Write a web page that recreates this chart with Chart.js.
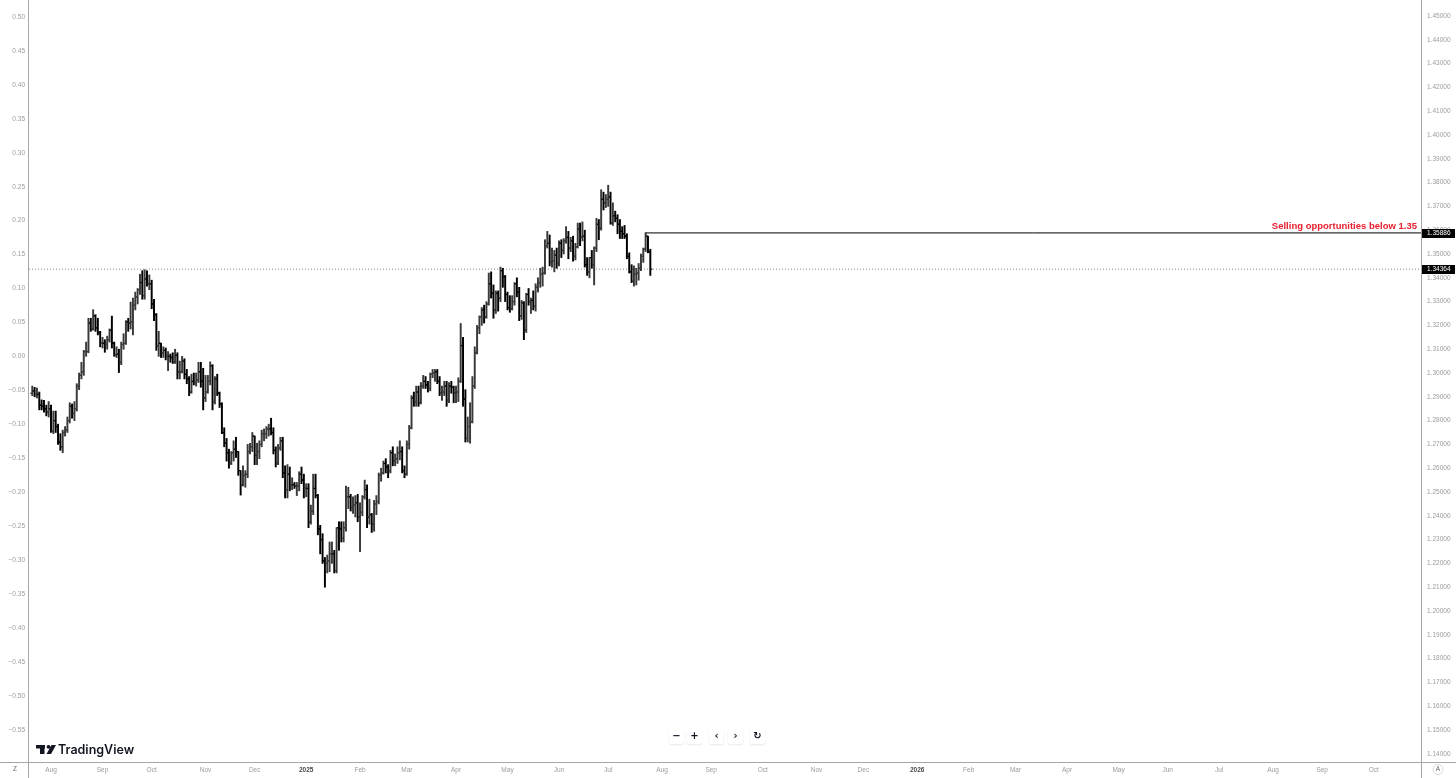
<!DOCTYPE html>
<html>
<head>
<meta charset="utf-8">
<script src="https://cdn.jsdelivr.net/npm/chart.js"></script>
<style>
  html, body { margin: 0; padding: 0; background: #fff; }
  #wrap { width: 1456px; height: 778px; position: relative; }
</style>
</head>
<body>
<div id="wrap"><canvas id="fx" width="1456" height="778"></canvas></div>
<script>
// daily bars, GBP/USD, first bar on 2024-07-22 (weekdays only)
const firstBar = '2024-07-22';

const opens = [
  1.2915,1.2925,1.2910,1.2910,1.2865,1.2860,1.2850,1.2835,
  1.2850,1.2755,1.2800,1.2775,1.2710,1.2690,1.2750,1.2760,1.2800,1.2860,1.2830,1.2850,1.2945,1.2990,1.3005,1.3090,1.3090,1.3210,1.3185,1.3240,1.3190,1.3170,
  1.3125,1.3125,1.3120,1.3140,1.3180,1.3125,1.3075,1.3080,1.3045,1.3120,1.3125,1.3215,1.3210,1.3215,1.3285,1.3320,1.3350,1.3380,1.3325,1.3395,1.3375,
  1.3375,1.3290,1.3245,1.3115,1.3125,1.3085,1.3095,1.3070,1.3070,1.3065,1.3045,1.3075,1.3005,1.3005,1.3050,1.2995,1.2975,1.2920,1.2965,1.2960,1.2970,1.3005,1.2965,
  1.2895,1.2920,1.2965,1.3030,1.2880,1.2975,1.2915,1.2870,1.2750,1.2705,1.2665,1.2620,1.2665,1.2680,1.2670,1.2590,1.2530,1.2570,1.2575,1.2670,1.2690,
  1.2735,1.2655,1.2670,1.2700,1.2745,1.2745,1.2765,1.2765,1.2750,1.2675,1.2620,1.2685,1.2715,1.2580,1.2510,1.2575,1.2530,1.2530,1.2525,1.2525,1.2575,1.2550,
  1.2515,1.2515,1.2375,1.2420,1.2515,1.2485,1.2345,1.2300,1.2210,1.2200,1.2210,1.2240,1.2240,1.2170,1.2350,1.2345,1.2305,1.2350,1.2480,1.2480,1.2435,1.2445,1.2455,
  1.2395,1.2415,1.2480,1.2510,1.2395,1.2405,1.2365,1.2450,1.2460,1.2570,1.2580,1.2620,1.2605,1.2590,1.2665,1.2630,1.2640,1.2665,1.2670,1.2590,
  1.2575,1.2700,1.2770,1.2895,1.2880,1.2920,1.2875,1.2945,1.2965,1.2950,1.2935,1.2995,1.3000,1.3005,1.2965,1.2915,1.2920,1.2945,1.2885,1.2945,1.2940,
  1.2915,1.2920,1.2965,1.3115,1.2890,1.2725,1.2775,1.2795,1.2945,1.3085,1.3190,1.3235,1.3265,1.3235,1.3290,1.3375,1.3335,1.3265,1.3335,1.3315,1.3430,1.3405,
  1.3330,1.3275,1.3270,1.3300,1.3375,1.3340,1.3240,1.3295,1.3180,1.3330,1.3300,1.3305,1.3280,1.3360,1.3380,1.3415,1.3420,1.3535,1.3545,1.3465,1.3470,1.3495,
  1.3460,1.3545,1.3515,1.3555,1.3570,1.3525,1.3555,1.3490,1.3530,1.3605,1.3570,1.3575,1.3455,1.3425,1.3485,1.3455,1.3525,1.3625,1.3610,1.3730,1.3715,
  1.3730,1.3740,1.3630,1.3660,1.3650,1.3625,1.3595,1.3585,1.3575,1.3490,1.3425,1.3385,1.3415,1.3420,1.3440,1.3490,1.3520,1.3575,1.3510
];
const highs = [
  1.2945,1.2940,1.2937,1.2920,1.2887,1.2885,1.2865,1.2880,
  1.2865,1.2840,1.2840,1.2785,1.2745,1.2760,1.2775,1.2815,1.2875,1.2870,1.2880,1.2955,1.3000,1.3045,1.3095,1.3130,1.3230,1.3230,1.3266,1.3245,1.3230,1.3175,
  1.3150,1.3140,1.3155,1.3185,1.3239,1.3130,1.3110,1.3100,1.3130,1.3165,1.3220,1.3230,1.3298,1.3315,1.3340,1.3355,1.3415,1.3430,1.3434,1.3429,1.3412,
  1.3390,1.3310,1.3250,1.3175,1.3125,1.3110,1.3105,1.3090,1.3080,1.3085,1.3100,1.3085,1.3050,1.3070,1.3060,1.3015,1.2985,1.2995,1.3000,1.3000,1.3045,1.3045,1.3020,
  1.2990,1.2990,1.3047,1.3035,1.2985,1.2995,1.2920,1.2875,1.2770,1.2725,1.2680,1.2670,1.2715,1.2730,1.2670,1.2590,1.2610,1.2590,1.2700,1.2705,1.2750,
  1.2735,1.2705,1.2715,1.2760,1.2765,1.2775,1.2785,1.2810,1.2770,1.2690,1.2700,1.2730,1.2730,1.2610,1.2615,1.2605,1.2560,1.2540,1.2540,1.2585,1.2605,1.2575,
  1.2535,1.2535,1.2445,1.2575,1.2575,1.2490,1.2360,1.2325,1.2225,1.2235,1.2290,1.2290,1.2255,1.2350,1.2375,1.2375,1.2375,1.2525,1.2520,1.2490,1.2480,1.2485,1.2490,
  1.2455,1.2485,1.2550,1.2530,1.2470,1.2410,1.2465,1.2485,1.2580,1.2600,1.2630,1.2640,1.2615,1.2675,1.2690,1.2660,1.2690,1.2715,1.2690,1.2610,
  1.2715,1.2780,1.2905,1.2920,1.2945,1.2945,1.2960,1.2990,1.2985,1.2965,1.3000,1.3015,1.3015,1.3015,1.2985,1.2945,1.2965,1.2965,1.2960,1.2965,1.2945,
  1.2945,1.2980,1.3208,1.3150,1.2930,1.2815,1.2875,1.2985,1.3110,1.3200,1.3240,1.3275,1.3285,1.3300,1.3420,1.3425,1.3370,1.3345,1.3345,1.3445,1.3440,1.3410,
  1.3340,1.3325,1.3325,1.3380,1.3400,1.3360,1.3305,1.3300,1.3335,1.3355,1.3315,1.3345,1.3375,1.3400,1.3440,1.3445,1.3560,1.3595,1.3580,1.3525,1.3515,1.3525,
  1.3555,1.3560,1.3565,1.3615,1.3595,1.3570,1.3575,1.3545,1.3630,1.3630,1.3635,1.3600,1.3485,1.3485,1.3515,1.3530,1.3650,1.3645,1.3770,1.3760,1.3750,
  1.3789,1.3760,1.3715,1.3680,1.3665,1.3645,1.3615,1.3620,1.3585,1.3505,1.3455,1.3450,1.3440,1.3460,1.3500,1.3525,1.3589,1.3575,1.3520
];
const lows = [
  1.2905,1.2900,1.2895,1.2845,1.2845,1.2835,1.2820,1.2815,
  1.2750,1.2745,1.2750,1.2700,1.2675,1.2665,1.2735,1.2750,1.2790,1.2810,1.2800,1.2840,1.2930,1.2975,1.2990,1.3070,1.3085,1.3175,1.3180,1.3175,1.3160,1.3110,
  1.3105,1.3087,1.3100,1.3130,1.3105,1.3070,1.3065,1.3002,1.3035,1.3100,1.3120,1.3175,1.3185,1.3160,1.3265,1.3290,1.3330,1.3310,1.3310,1.3365,1.3350,
  1.3270,1.3220,1.3095,1.3070,1.3065,1.3065,1.3055,1.3010,1.3045,1.3040,1.3040,1.2975,1.2975,1.3000,1.2975,1.2955,1.2905,1.2915,1.2950,1.2945,1.2960,1.2940,1.2845,
  1.2880,1.2915,1.2950,1.2845,1.2870,1.2905,1.2855,1.2745,1.2690,1.2630,1.2600,1.2615,1.2630,1.2645,1.2570,1.2487,1.2525,1.2520,1.2560,1.2660,1.2670,
  1.2615,1.2615,1.2640,1.2690,1.2715,1.2725,1.2735,1.2740,1.2660,1.2605,1.2615,1.2675,1.2560,1.2475,1.2475,1.2505,1.2510,1.2515,1.2485,1.2505,1.2535,1.2475,
  1.2480,1.2350,1.2365,1.2405,1.2475,1.2320,1.2240,1.2200,1.2100,1.2160,1.2165,1.2200,1.2160,1.2160,1.2255,1.2290,1.2290,1.2335,1.2430,1.2420,1.2410,1.2395,1.2375,
  1.2249,1.2400,1.2470,1.2350,1.2365,1.2330,1.2335,1.2405,1.2450,1.2545,1.2575,1.2580,1.2560,1.2580,1.2610,1.2610,1.2620,1.2635,1.2580,1.2560,
  1.2570,1.2680,1.2765,1.2860,1.2860,1.2860,1.2870,1.2935,1.2935,1.2920,1.2925,1.2980,1.2965,1.2955,1.2905,1.2885,1.2905,1.2860,1.2875,1.2915,1.2875,
  1.2875,1.2880,1.2960,1.2860,1.2710,1.2710,1.2705,1.2790,1.2935,1.3080,1.3165,1.3200,1.3210,1.3230,1.3285,1.3315,1.3230,1.3250,1.3260,1.3300,1.3360,1.3300,
  1.3265,1.3255,1.3265,1.3285,1.3320,1.3220,1.3225,1.3140,1.3170,1.3285,1.3250,1.3265,1.3260,1.3340,1.3360,1.3365,1.3415,1.3525,1.3450,1.3445,1.3425,1.3440,
  1.3450,1.3485,1.3500,1.3545,1.3480,1.3510,1.3470,1.3475,1.3525,1.3535,1.3555,1.3445,1.3410,1.3400,1.3440,1.3370,1.3510,1.3560,1.3600,1.3685,1.3695,
  1.3700,1.3625,1.3620,1.3635,1.3585,1.3565,1.3565,1.3565,1.3480,1.3420,1.3380,1.3365,1.3370,1.3390,1.3430,1.3465,1.3510,1.3505,1.3410
];
const closes = [
  1.2925,1.2910,1.2910,1.2865,1.2860,1.2850,1.2835,1.2850,
  1.2755,1.2800,1.2775,1.2710,1.2690,1.2750,1.2760,1.2800,1.2860,1.2830,1.2850,1.2945,1.2990,1.3005,1.3090,1.3090,1.3210,1.3185,1.3240,1.3190,1.3170,1.3125,
  1.3125,1.3120,1.3140,1.3180,1.3125,1.3075,1.3080,1.3045,1.3120,1.3125,1.3215,1.3210,1.3215,1.3285,1.3320,1.3350,1.3380,1.3325,1.3395,1.3375,1.3375,
  1.3290,1.3245,1.3115,1.3125,1.3085,1.3095,1.3070,1.3070,1.3065,1.3045,1.3075,1.3005,1.3005,1.3050,1.2995,1.2975,1.2920,1.2965,1.2960,1.2970,1.3005,1.2965,1.2895,
  1.2920,1.2965,1.3030,1.2880,1.2975,1.2915,1.2870,1.2750,1.2705,1.2665,1.2620,1.2665,1.2680,1.2670,1.2590,1.2530,1.2570,1.2575,1.2670,1.2690,1.2735,
  1.2655,1.2670,1.2700,1.2745,1.2745,1.2765,1.2765,1.2750,1.2675,1.2620,1.2685,1.2715,1.2580,1.2510,1.2575,1.2530,1.2530,1.2525,1.2525,1.2575,1.2550,1.2515,
  1.2515,1.2375,1.2420,1.2515,1.2485,1.2345,1.2300,1.2210,1.2200,1.2210,1.2240,1.2240,1.2170,1.2350,1.2345,1.2305,1.2350,1.2480,1.2480,1.2435,1.2445,1.2455,1.2395,
  1.2415,1.2480,1.2510,1.2395,1.2405,1.2365,1.2450,1.2460,1.2570,1.2580,1.2620,1.2605,1.2590,1.2665,1.2630,1.2640,1.2665,1.2670,1.2590,1.2575,
  1.2700,1.2770,1.2895,1.2880,1.2920,1.2875,1.2945,1.2965,1.2950,1.2935,1.2995,1.3000,1.3005,1.2965,1.2915,1.2920,1.2945,1.2885,1.2945,1.2940,1.2915,
  1.2920,1.2965,1.3115,1.2890,1.2725,1.2775,1.2795,1.2945,1.3085,1.3190,1.3235,1.3265,1.3235,1.3290,1.3375,1.3335,1.3265,1.3335,1.3315,1.3430,1.3405,1.3330,
  1.3275,1.3270,1.3300,1.3375,1.3340,1.3240,1.3295,1.3180,1.3330,1.3300,1.3305,1.3280,1.3360,1.3380,1.3415,1.3420,1.3535,1.3545,1.3465,1.3470,1.3495,1.3460,
  1.3545,1.3515,1.3555,1.3570,1.3525,1.3555,1.3490,1.3530,1.3605,1.3570,1.3575,1.3455,1.3425,1.3485,1.3455,1.3525,1.3625,1.3610,1.3730,1.3715,1.3730,
  1.3740,1.3630,1.3660,1.3650,1.3625,1.3595,1.3585,1.3575,1.3490,1.3425,1.3385,1.3415,1.3420,1.3440,1.3490,1.3520,1.3575,1.3510,1.34364
];

// horizontal levels
const levelPrice = 1.35886;
const levelFrom = '2025-07-23';
const levelText = 'Selling opportunities below 1.35';
const lastPrice = 1.34364;

// axis labels
const monthLabels = ['Aug','Sep','Oct','Nov','Dec','2025','Feb','Mar','Apr','May','Jun','Jul',
  'Aug','Sep','Oct','Nov','Dec','2026','Feb','Mar','Apr','May','Jun','Jul','Aug','Sep','Oct'];
const priceTicks = [1.14,1.15,1.16,1.17,1.18,1.19,1.20,1.21,1.22,1.23,1.24,1.25,1.26,1.27,1.28,1.29,
  1.30,1.31,1.32,1.33,1.34,1.35,1.36,1.37,1.38,1.39,1.40,1.41,1.42,1.43,1.44,1.45];
const pctTicks = [0.50,0.45,0.40,0.35,0.30,0.25,0.20,0.15,0.10,0.05,0.00,-0.05,-0.10,-0.15,-0.20,
  -0.25,-0.30,-0.35,-0.40,-0.45,-0.50,-0.55];

// trading days (weekdays) from the first bar to the end of the visible axis
const days = [];
for (let d = new Date(firstBar + 'T00:00:00Z'); d <= new Date('2026-10-31T00:00:00Z'); d.setUTCDate(d.getUTCDate() + 1)) {
  const wd = d.getUTCDay();
  if (wd !== 0 && wd !== 6) days.push(d.toISOString().slice(0, 10));
}
const monthTicks = monthLabels.map((lab, k) => {
  const y = 2024 + Math.floor((7 + k) / 12), m = (7 + k) % 12;
  const key = y + '-' + String(m + 1).padStart(2, '0');
  return { value: days.findIndex(s => s.startsWith(key)), label: lab };
});
const labelAt = v => { const t = monthTicks.find(m => m.value === v); return t ? t.label : ''; };
const isYear = c => c && c.tick ? /^\d/.test(labelAt(c.tick.value)) : false;

// visible window (bars) and price range of the full 762px plot height
const viewFrom = -1.4, viewTo = 593.2;
const priceMin = 1.13656, priceMax = 1.45672;
const pctMin = -0.59721, pctMax = 0.52503;
const plotH = 762;

const upCol = '#3a3a3a', downCol = '#000000';
const colors = closes.map((c, i) => c >= opens[i] ? upCol : downCol);

Chart.defaults.font.family = "'Liberation Sans', Arial, sans-serif";

const decor = {
  id: 'decor',
  afterDraw(chart) {
    const ctx = chart.ctx, a = chart.chartArea, ys = chart.scales.y;
    const W = chart.width, H = chart.height;
    ctx.save();
    // frame lines
    ctx.strokeStyle = '#a6a6a6';
    ctx.lineWidth = 1;
    ctx.beginPath();
    ctx.moveTo(Math.round(a.left) - 0.5, 0); ctx.lineTo(Math.round(a.left) - 0.5, H);
    ctx.moveTo(Math.round(a.right) + 0.5, 0); ctx.lineTo(Math.round(a.right) + 0.5, H);
    ctx.moveTo(0, plotH + 0.5); ctx.lineTo(W, plotH + 0.5);
    ctx.stroke();

    // price tags on the right scale
    ctx.font = "6.5px 'Liberation Sans', Arial, sans-serif";
    ctx.textBaseline = 'middle';
    ctx.textAlign = 'left';
    [levelPrice, lastPrice].forEach(p => {
      const py = Math.round(ys.getPixelForValue(p));
      ctx.fillStyle = '#000';
      ctx.fillRect(a.right + 1, py - 4, 33, 9);
      ctx.fillStyle = '#fff';
      ctx.fillText(p.toFixed(5), a.right + 6, py + 0.5);
    });

    // red note above the level
    ctx.font = "bold 9.5px 'Liberation Sans', Arial, sans-serif";
    ctx.fillStyle = '#e8202f';
    ctx.textAlign = 'right';
    ctx.textBaseline = 'alphabetic';
    ctx.fillText(levelText, a.right - 4, ys.getPixelForValue(levelPrice) - 4);

    // TradingView mark
    ctx.fillStyle = '#131722';
    ctx.fillRect(36, 745, 9, 3.5);
    ctx.fillRect(40, 745, 4.5, 9);
    ctx.beginPath(); ctx.arc(48.5, 746.8, 1.9, 0, Math.PI * 2); ctx.fill();
    ctx.beginPath();
    ctx.moveTo(51.5, 745); ctx.lineTo(56, 745); ctx.lineTo(51, 754); ctx.lineTo(46.5, 754);
    ctx.closePath(); ctx.fill();
    ctx.font = "600 12.5px 'Inter', 'Noto Sans', sans-serif";
    ctx.textAlign = 'left';
    ctx.fillText('TradingView', 58, 754);

    // navigation buttons
    const btns = [['\u2212', 669], ['+', 687], ['\u2039', 709], ['\u203A', 728], ['\u21BB', 750]];
    btns.forEach(([s, x]) => {
      ctx.fillStyle = 'rgba(0,0,0,0.06)';
      ctx.beginPath(); ctx.roundRect(x - 0.5, 729.5, 16, 16, 3); ctx.fill();
      ctx.fillStyle = '#fff';
      ctx.beginPath(); ctx.roundRect(x, 729, 15, 15, 3); ctx.fill();
      ctx.fillStyle = '#131722';
      ctx.font = "bold 10px 'DejaVu Sans', sans-serif";
      ctx.textAlign = 'center';
      ctx.textBaseline = 'middle';
      ctx.fillText(s, x + 7.5, 736.5);
    });

    // corner glyphs
    ctx.font = "6.5px 'Liberation Sans', Arial, sans-serif";
    ctx.fillStyle = '#666';
    ctx.fillText('Z', 15, 769.5);
    ctx.fillText('A', 1438, 769.5);
    ctx.strokeStyle = '#d8d8d8';
    ctx.beginPath(); ctx.arc(1438, 769.5, 5, 0, Math.PI * 2); ctx.stroke();
    ctx.restore();
  }
};

const chart = new Chart(document.getElementById('fx'), {
  type: 'bar',
  data: {
    datasets: [
      {
        type: 'bar',
        data: highs.map((h, i) => ({ x: i, y: [lows[i], h] })),
        backgroundColor: colors,
        barThickness: 1.3,
        borderWidth: 0,
        yAxisID: 'y',
        order: 3
      },
      {
        type: 'line',
        data: opens.map((o, i) => ({ x: i - 0.45, y: o })),
        showLine: false,
        pointStyle: 'line',
        pointRadius: 1,
        pointBorderWidth: 1.2,
        pointBorderColor: colors,
        yAxisID: 'y',
        order: 2
      },
      {
        type: 'line',
        data: closes.map((c, i) => ({ x: i + 0.45, y: c })),
        showLine: false,
        pointStyle: 'line',
        pointRadius: 1,
        pointBorderWidth: 1.2,
        pointBorderColor: colors,
        yAxisID: 'y',
        order: 2
      },
      {
        type: 'line',
        data: [{ x: viewFrom, y: lastPrice }, { x: viewTo, y: lastPrice }],
        borderColor: '#8c8c8c',
        borderWidth: 1,
        borderDash: [1, 2],
        pointRadius: 0,
        yAxisID: 'y',
        order: 4
      },
      {
        type: 'line',
        data: [{ x: days.indexOf(levelFrom), y: levelPrice }, { x: viewTo, y: levelPrice }],
        borderColor: '#000',
        borderWidth: 1,
        pointRadius: 0,
        yAxisID: 'y',
        order: 1
      }
    ]
  },
  options: {
    responsive: false,
    animation: false,
    events: [],
    layout: { padding: 0 },
    plugins: { legend: { display: false }, tooltip: { enabled: false } },
    scales: {
      x: {
        type: 'linear',
        min: viewFrom,
        max: viewTo,
        offset: false,
        grid: { display: false, drawTicks: false },
        border: { display: false },
        afterBuildTicks: s => { s.ticks = monthTicks.map(t => ({ value: t.value })); },
        afterFit: s => { s.height = 16; },
        ticks: {
          autoSkip: false,
          maxRotation: 0,
          padding: 4,
          callback: v => labelAt(v),
          color: c => isYear(c) ? '#4a4a4a' : '#9b9b9b',
          font: c => ({ size: 6.5, weight: isYear(c) ? 'bold' : 'normal' })
        }
      },
      y: {
        type: 'linear',
        position: 'right',
        min: priceMin,
        max: priceMax,
        grid: { display: false, drawTicks: false },
        border: { display: false },
        afterBuildTicks: s => { s.ticks = priceTicks.map(v => ({ value: v })); },
        afterFit: s => { s.width = 35; },
        ticks: { padding: 6, color: '#9b9b9b', font: { size: 6.5 }, callback: v => v.toFixed(5) }
      },
      yL: {
        type: 'linear',
        position: 'left',
        min: pctMin,
        max: pctMax,
        grid: { display: false, drawTicks: false },
        border: { display: false },
        afterBuildTicks: s => { s.ticks = pctTicks.map(v => ({ value: v })); },
        afterFit: s => { s.width = 29; },
        ticks: {
          padding: 4, color: '#9b9b9b', font: { size: 6.5 },
          callback: v => (v < -0.0001 ? '\u2212' : '') + Math.abs(v).toFixed(2)
        }
      }
    }
  },
  plugins: [decor]
});

// Chart.js insets the plot a few px for the edge labels; stretch the value ranges
// so that the price-to-pixel mapping spans the full 0..762px band as on screen
const area = chart.chartArea;
const kP = (priceMax - priceMin) / plotH, kL = (pctMax - pctMin) / plotH;
chart.options.scales.y.max = priceMax - area.top * kP;
chart.options.scales.y.min = priceMax - area.bottom * kP;
chart.options.scales.yL.max = pctMax - area.top * kL;
chart.options.scales.yL.min = pctMax - area.bottom * kL;
chart.update();
</script>
</body>
</html>
